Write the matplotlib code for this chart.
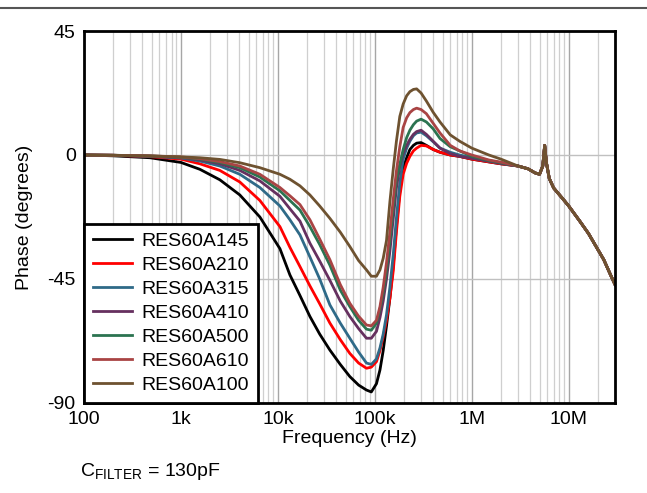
import matplotlib
matplotlib.use("Agg")
import matplotlib.pyplot as plt
from matplotlib.lines import Line2D
from matplotlib.ticker import LogLocator, NullFormatter

plt.rcParams['font.family'] = ['Liberation Sans', 'DejaVu Sans']

# frequency grid (Hz) up to 2 MHz, then common high-frequency tail
freq_low = [100, 200, 480, 1000, 1570, 2520, 4050, 6520, 10500, 13300,
            16900, 21400, 27000, 34400, 44000, 55200, 68000, 82000, 92000, 104000,
            113000, 122000, 132000, 143000, 155000, 167000, 181000, 196000, 213000, 230000,
            250000, 270000, 300000, 340000, 400000, 470000, 600000, 750000, 1e6, 1.5e6,
            2e6]
freq_tail = [3e6, 3.8e6, 4.5e6, 5e6, 5.4e6, 5.65e6, 5.9e6, 6.3e6, 7e6, 8.5e6,
             1e7, 1.3e7, 1.6e7, 1.9e7, 2.3e7, 2.7e7, 3e7]
phase_tail = [-4, -5, -6.5, -7, -4, 3.5, -3, -8.5, -12, -15.5,
              -18.5, -24, -28.5, -33, -38, -43.5, -47]

res145 = [0, -0.3, -1.0, -2.7, -5.2, -9.0, -14.5, -22.5, -34, -43.5,
          -51, -58.6, -65, -70.8, -76, -80.4, -83.5, -85.3, -86, -83,
          -78, -71, -62, -52, -40, -26, -13, -5, -1, 2,
          3.5, 4.3, 4.5, 3.5, 2, 1, 0, -0.5, -1.5, -2.5,
          -3.2]
res210 = [0, -0.1, -0.6, -1.5, -3.2, -5.6, -9.8, -16.5, -26, -33.5,
          -40.5, -47.5, -54, -61, -67, -72, -75.5, -77.4, -77, -75,
          -71, -66, -60, -52, -42, -28, -15, -7, -3, -0.5,
          1.5, 2.5, 3.5, 3.3, 2, 1, 0, -0.5, -1.5, -2.5,
          -3.2]
res315 = [0, -0.1, -0.5, -1.1, -2.2, -4, -7, -11.8, -18.5, -23.5,
          -29, -37, -45, -54.4, -61, -66.5, -71.5, -75.5, -76, -74,
          -70, -65, -58, -48, -36, -23, -10, -1.5, 2.5, 5,
          7, 8, 8.3, 7, 4.8, 2.5, 1, 0, -1, -2.2,
          -3]
res410 = [0, -0.1, -0.4, -0.9, -1.8, -3.2, -5.6, -9.4, -15, -19.5,
          -24, -32, -38.5, -45.5, -53, -58.6, -63, -66.5, -66.5, -64,
          -59, -53, -45, -35, -23, -12, -4, 0.5, 3.5, 5.7,
          7.5, 8.5, 9, 7.5, 5, 2.5, 0.5, -0.5, -1.2, -2.2,
          -3]
res500 = [0, -0.1, -0.3, -0.8, -1.5, -2.7, -4.6, -8, -13, -16.5,
          -20, -26, -32.5, -40, -49, -55, -60, -63.2, -63.6, -61,
          -56, -50, -42, -31, -19, -9, -3.4, 2, 6.3, 9,
          11, 12.3, 13, 12, 9.5, 6, 3, 1.5, -0.5, -2,
          -2.8]
res610 = [0, -0.1, -0.3, -0.7, -1.3, -2.4, -4, -7, -11.8, -14.8,
          -18, -23.5, -30.5, -38, -47, -53.8, -58.5, -61.7, -62, -60,
          -55, -48, -39, -28, -16, -5.8, 3, 10, 13.5, 15.4,
          16.5, 17, 16.5, 15, 11.5, 8, 3.5, 1.5, 0, -1.8,
          -2.6]
res100 = [0, -0.1, -0.4, -0.7, -1.0, -1.6, -2.8, -4.6, -7, -8.8,
          -11.2, -14.5, -18.5, -23, -28, -33.2, -38.3, -41.7, -44, -44,
          -41.7, -37.5, -31, -17, -5, 5, 14, 18.5, 21.5, 23,
          23.8, 24, 22.5, 19.6, 15.5, 12, 7.3, 5, 2.5, 0,
          -1.5]

labels = ["RES60A145", "RES60A210", "RES60A315", "RES60A410",
          "RES60A500", "RES60A610", "RES60A100"]
series = [res145, res210, res315, res410, res500, res610, res100]
colors = ["#000000", "#FF0000", "#2F6A88", "#66305F", "#2B7350",
          "#A94444", "#6E5230"]

x_ticks = [1e2, 1e3, 1e4, 1e5, 1e6, 1e7]
x_ticklabels = ["100", "1k", "10k", "100k", "1M", "10M"]
y_ticks = [-90, -45, 0, 45]
y_ticklabels = ["-90", "-45", "0", "45"]

FS = 14

fig = plt.figure(figsize=(6.47, 4.93), dpi=100)
ax = fig.add_axes([0.1298, 0.1826, 0.8207, 0.7545])

freq = freq_low + freq_tail
for vals, lab, c in zip(series, labels, colors):
    ax.plot(freq, vals + phase_tail, color=c, lw=2, label=lab,
            solid_joinstyle='round')

ax.set_xscale('log')
ax.set_xlim(100, 3e7)
ax.set_ylim(-90, 45)
ax.set_xticks(x_ticks)
ax.set_xticklabels(x_ticklabels)
ax.xaxis.set_minor_locator(LogLocator(base=10, subs=range(2, 10), numticks=20))
ax.xaxis.set_minor_formatter(NullFormatter())
ax.set_yticks(y_ticks)
ax.set_yticklabels(y_ticklabels)
ax.tick_params(axis='both', which='both', length=0, labelsize=FS, pad=6)
ax.grid(True, which='major', axis='x', color='#a6a6a6', lw=1)
ax.grid(True, which='minor', axis='x', color='#cfcfcf', lw=0.9)
ax.grid(True, which='major', axis='y', color='#c0c0c0', lw=1)
ax.set_axisbelow(True)
for s in ax.spines.values():
    s.set_linewidth(2)
    s.set_color('black')

ax.set_xlabel("Frequency (Hz)", fontsize=FS, labelpad=1)
ax.set_ylabel("Phase (degrees)", fontsize=FS, labelpad=10)

leg = ax.legend(loc='lower left', bbox_to_anchor=(0, 0), borderaxespad=0,
                fontsize=FS, frameon=True, fancybox=False, framealpha=1,
                handlelength=2.0, handletextpad=0.5, labelspacing=0.33,
                borderpad=0.45)
leg.get_frame().set_edgecolor('black')
leg.get_frame().set_linewidth(2)

fig.add_artist(Line2D([0, 1], [1 - 8 / 493, 1 - 8 / 493], color='#555555', lw=1.5))
fig.text(80 / 647, 1 - 471 / 493, r"C$_{\mathregular{FILTER}}$ = 130pF",
         fontsize=FS, va='center', ha='left')

fig.savefig("out.png", dpi=100)
